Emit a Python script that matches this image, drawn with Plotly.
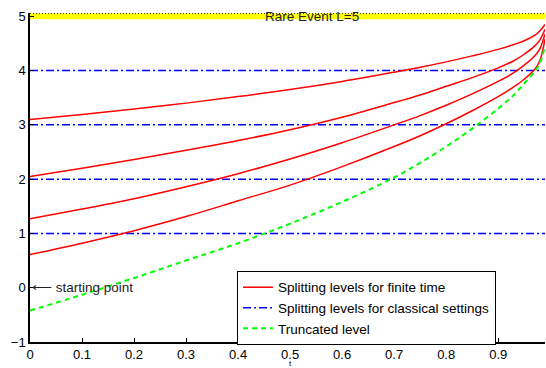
import plotly.graph_objects as go

# time grid (read positions)
t = [0, 0.1, 0.2, 0.3, 0.4, 0.5, 0.6, 0.7, 0.75, 0.8, 0.85, 0.9, 0.93, 0.95, 0.97, 0.98, 0.99]

# splitting levels for finite time
red1 = [3.10, 3.19, 3.29, 3.40, 3.52, 3.65, 3.80, 3.97, 4.06, 4.16, 4.27, 4.39, 4.48, 4.55, 4.65, 4.73, 4.85]
red2 = [2.05, 2.20, 2.36, 2.53, 2.71, 2.91, 3.14, 3.41, 3.55, 3.71, 3.87, 4.05, 4.18, 4.30, 4.45, 4.56, 4.76]
red3 = [1.27, 1.45, 1.64, 1.86, 2.10, 2.37, 2.67, 3.00, 3.17, 3.36, 3.57, 3.80, 3.96, 4.10, 4.27, 4.40, 4.67]
red4 = [0.61, 0.82, 1.05, 1.31, 1.60, 1.89, 2.23, 2.60, 2.80, 3.02, 3.26, 3.52, 3.70, 3.84, 4.02, 4.18, 4.58]
green = [-0.42, -0.13, 0.18, 0.50, 0.82, 1.18, 1.58, 2.03, 2.30, 2.60, 2.93, 3.30, 3.55, 3.76, 3.98, 4.13, 4.45]

classical_levels = [1, 2, 3, 4]
rare_level = 5
x_ticks = [0, 0.1, 0.2, 0.3, 0.4, 0.5, 0.6, 0.7, 0.8, 0.9]
x_tick_labels = ["0", "0.1", "0.2", "0.3", "0.4", "0.5", "0.6", "0.7", "0.8", "0.9"]
y_ticks = [-1, 0, 1, 2, 3, 4, 5]
x_max = 0.99

FONT = "Liberation Sans, Arial, Helvetica, sans-serif"

fig = go.Figure()

# rare event band
fig.add_trace(go.Scatter(x=[0, x_max], y=[rare_level, rare_level], mode="lines",
                         line=dict(color="#FFFF00", width=6), showlegend=False, hoverinfo="skip"))
fig.add_trace(go.Scatter(x=[0, x_max], y=[rare_level + 0.055, rare_level + 0.055], mode="lines",
                         line=dict(color="black", width=1, dash="1px,2px"), showlegend=False, hoverinfo="skip"))

# classical levels
for i, lv in enumerate(classical_levels):
    fig.add_trace(go.Scatter(x=[0, x_max], y=[lv, lv], mode="lines",
                             line=dict(color="#0000FF", width=1.5, dash="8px,3px,2px,3px"),
                             name="Splitting levels for classical settings",
                             legendrank=2, showlegend=(i == 0), hoverinfo="skip"))

# finite-time levels
for i, ys in enumerate([red1, red2, red3, red4]):
    fig.add_trace(go.Scatter(x=t, y=ys, mode="lines", line=dict(color="#FF0000", width=1.5, shape="spline"),
                             name="Splitting levels for finite time", legendrank=1,
                             showlegend=(i == 0)))

fig.add_trace(go.Scatter(x=t, y=green, mode="lines",
                         line=dict(color="#00FF00", width=2, dash="5px,4px", shape="spline"),
                         name="Truncated level", legendrank=3))

fig.add_annotation(x=0.542, y=rare_level, text="Rare Event L=5", showarrow=False,
                   font=dict(size=13.5, color="#222", family=FONT), xanchor="center", yanchor="middle")
fig.add_annotation(x=0, y=0, text="\u27f5 starting point", showarrow=False,
                   font=dict(size=13.5, color="#222", family=FONT), xanchor="left", yanchor="middle", xshift=0)
fig.add_annotation(x=0.5, xref="x", y=0, yref="paper", text="t", showarrow=False, borderpad=0,
                   font=dict(size=8, color="black", family=FONT), xanchor="center", yanchor="top", yshift=-16)

fig.update_layout(
    width=546, height=368,
    margin=dict(l=30, r=1, t=13, b=26),
    paper_bgcolor="white", plot_bgcolor="white",
    font=dict(family=FONT, size=13, color="black"),
    legend=dict(x=0.402, y=0.216, xanchor="left", yanchor="top",
                bordercolor="black", borderwidth=1, bgcolor="white",
                font=dict(size=13.5, family=FONT), itemwidth=30, tracegroupgap=0),
)
fig.update_xaxes(range=[0, x_max], tickvals=x_ticks, ticktext=x_tick_labels, automargin=False,
                 showline=True, linecolor="black", linewidth=1.5, ticks="inside", ticklen=4,
                 tickcolor="black", showgrid=False, zeroline=False, tickfont=dict(size=13))
fig.update_yaxes(range=[-1, 5.06], tickvals=y_ticks, automargin=False,
                 showline=True, linecolor="black", linewidth=1.5, ticks="inside", ticklen=4,
                 tickcolor="black", showgrid=False, zeroline=False, tickfont=dict(size=13))

fig.write_html("out.html", config={"displayModeBar": False},
               post_script="document.body.style.margin='0';document.body.style.overflow='hidden';")
